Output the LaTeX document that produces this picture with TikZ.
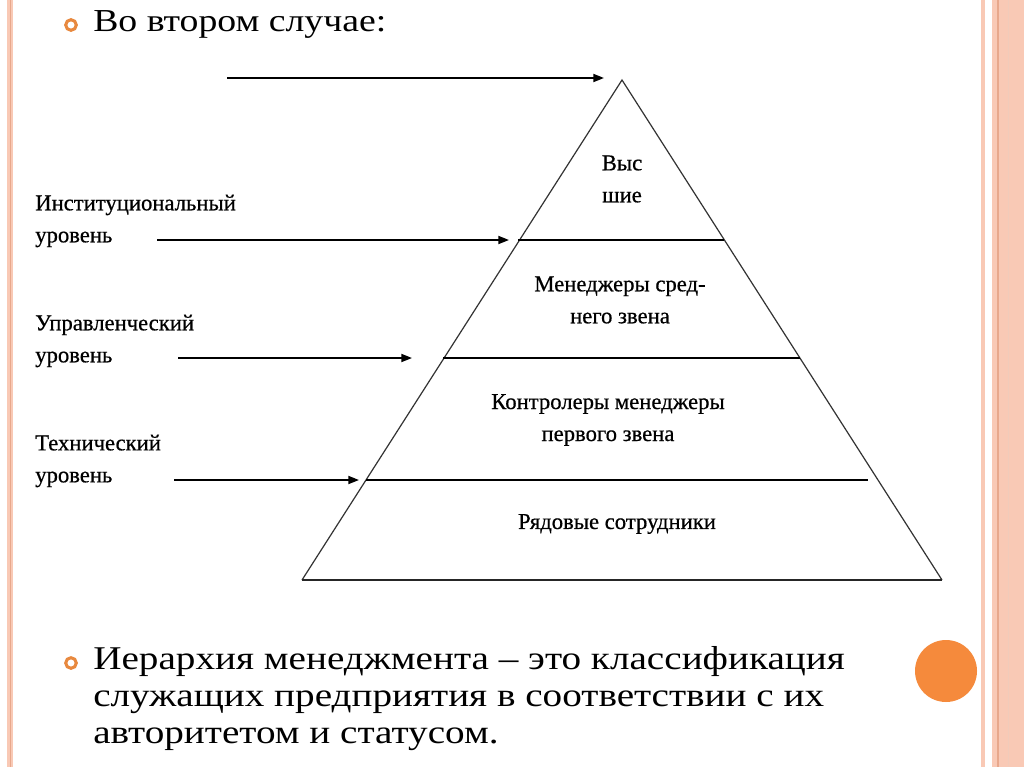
\documentclass[tikz,border=0pt]{standalone}
\usepackage{fontspec}
\setmainfont[FakeStretch=1.18]{Liberation Serif}
\newfontfamily\labfont[FakeBold=0.6]{Liberation Serif}
\usetikzlibrary{arrows.meta}
\definecolor{stripe}{HTML}{F9C9B5}
\definecolor{stripedark}{HTML}{E8A88C}
\definecolor{bulletor}{HTML}{E8893F}
\definecolor{dotor}{HTML}{F58A3C}
\begin{document}
\begin{tikzpicture}[x=0.75pt,y=-0.75pt,
  lab/.style={font=\labfont\fontsize{17}{24}\selectfont,anchor=west,align=left,inner sep=0pt},
  inlab/.style={font=\labfont\fontsize{17}{24}\selectfont,align=center,inner sep=0pt},
  big/.style={font=\fontsize{24}{27.75}\selectfont,anchor=west,align=left,inner sep=0pt},
  bigbody/.style={font=\fontsize{24.9}{27.75}\selectfont,anchor=west,align=left,inner sep=0pt},
  arr/.style={line width=1.3pt,-{Triangle[length=8pt,width=6pt]}},
  edge/.style={line width=0.9pt,black!80},
  level/.style={line width=1.3pt},
  ring/.style={draw=bulletor,line width=2.3pt}]
\useasboundingbox (0,0) rectangle (1024,767);
\fill[white] (0,0) rectangle (1024,767);
% border stripes
\fill[stripe] (7,0) rectangle (13,767);
\draw[stripedark,line width=0.6pt] (10,0) -- (10,767);
\fill[stripe] (981,0) rectangle (985,767);
\fill[stripe] (992,0) rectangle (1024,767);
\draw[stripedark,line width=0.8pt] (998,0) -- (998,767);
\draw[stripedark!60,line width=0.5pt] (1008,0) -- (1008,767);
% bullets
\draw[ring] (71,25) circle (5.3);
\draw[ring] (71,663) circle (5.3);
\node[big] (title) at (93,24) {Во втором случае:};
\node[bigbody] (body) at (93,699) {Иерархия менеджмента -- это классификация\\служащих предприятия в соответствии с их\\авторитетом и статусом.};
\fill[dotor] (946,671) circle (31);
% pyramid
\coordinate (apex) at (622,80);
\coordinate (bl) at (302,580);
\coordinate (br) at (942,580);
\draw[edge] (bl) -- (apex) -- (br);
\draw[level,black!85] (bl) -- (br);
\coordinate (l1a) at (518,240); \coordinate (l1b) at (724,240);
\coordinate (l2a) at (443,358); \coordinate (l2b) at (800,358);
\coordinate (l3a) at (366,480); \coordinate (l3b) at (868,480);
\draw[level] (l1a) -- (l1b);
\draw[level] (l2a) -- (l2b);
\draw[level] (l3a) -- (l3b);
% inner labels
\node[inlab] (t1) at (622,179) {Выс\\шие};
\node[inlab] (t2) at (620,300) {Менеджеры сред-\\него звена};
\node[inlab] (t3) at (608,420) {Контролеры менеджеры\\первого звена};
\node[inlab] (t4) at (617,524) {Рядовые сотрудники};
% left labels
\node[lab] (a1) at (35,221) {Институциональный\\уровень};
\node[lab] (a2) at (35,341) {Управленческий\\уровень};
\node[lab] (a3) at (35,461) {Технический\\уровень};
% arrows
\coordinate (s0) at (227,78); \coordinate (e0) at (604,78);
\coordinate (s1) at (157,240); \coordinate (e1) at (509,240);
\coordinate (s2) at (178,358); \coordinate (e2) at (412,358);
\coordinate (s3) at (174,480); \coordinate (e3) at (359,480);
\draw[arr] (s0) -- (e0);
\draw[arr] (s1) -- (e1);
\draw[arr] (s2) -- (e2);
\draw[arr] (s3) -- (e3);
\end{tikzpicture}
\end{document}
